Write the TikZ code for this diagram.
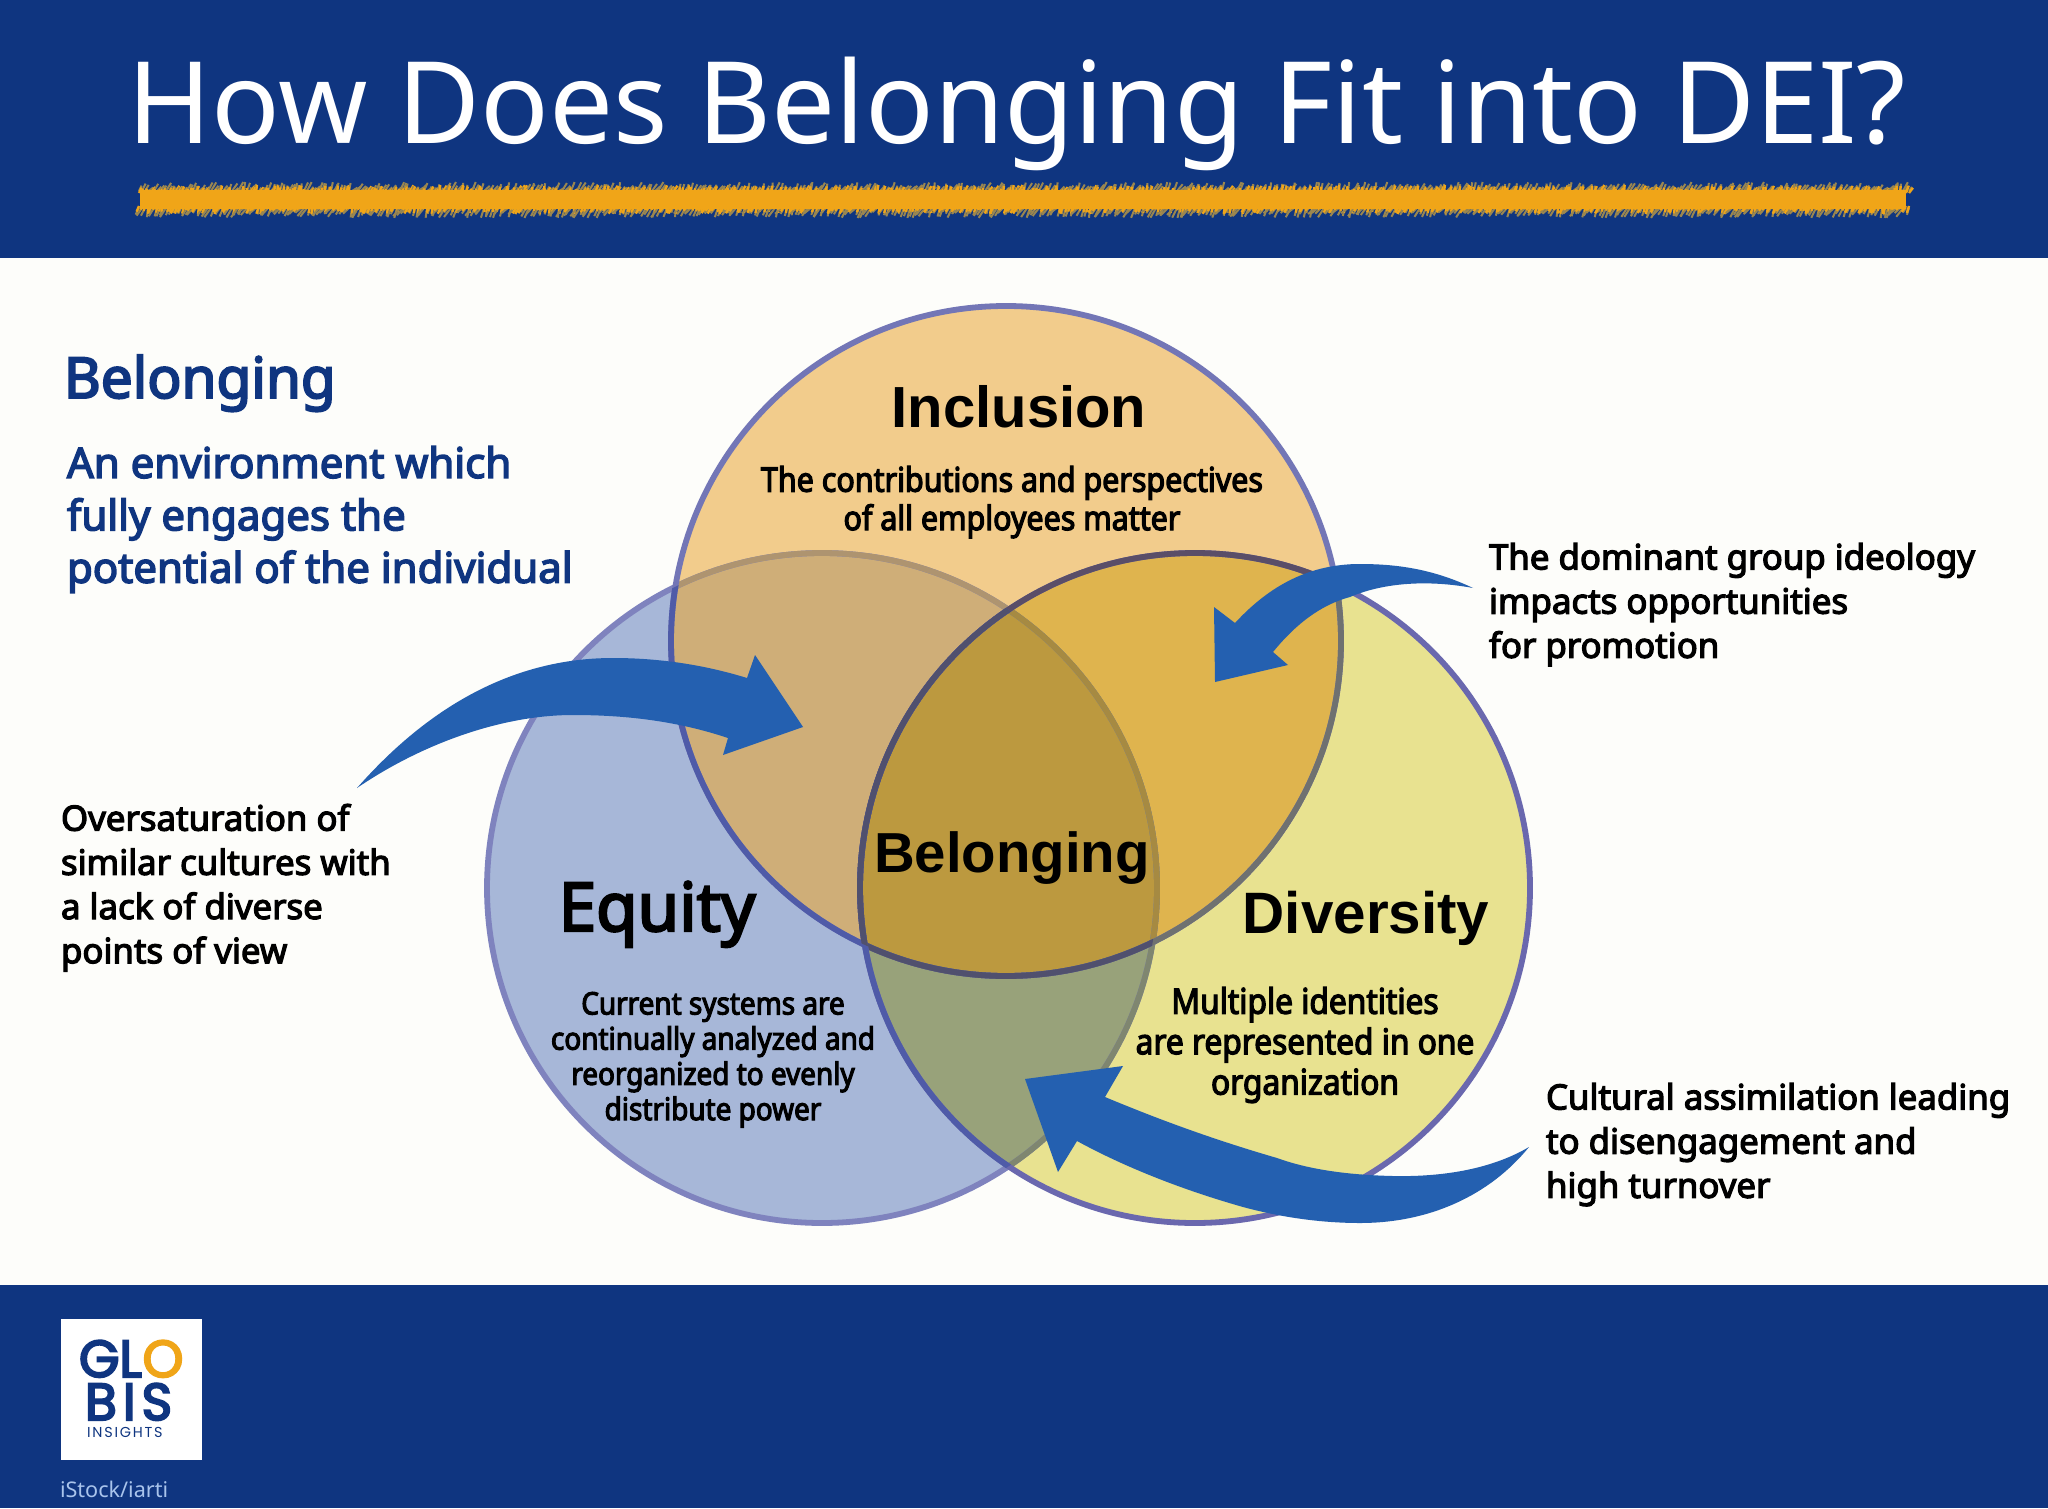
\documentclass[tikz,border=0pt]{standalone}
\usepackage{fontspec}
\setmainfont{Noto Sans}
\newfontfamily\nbc{Noto Sans}[FakeBold=3.5,FakeStretch=0.9]
\newfontfamily\nbw{Noto Sans}[FakeBold=3.5]
\newfontfamily\arl{Liberation Sans}
\newfontfamily\pop{Poppins}
\newfontfamily\popb{Poppins}[FakeBold=4]
\definecolor{navy}{HTML}{0F3580}
\definecolor{paper}{HTML}{FDFDFA}
\definecolor{arrowblue}{HTML}{2460B0}
\definecolor{incfill}{HTML}{F2CC8C}
\definecolor{eqfill}{HTML}{A7B7D8}
\definecolor{divfill}{HTML}{E8E290}
\definecolor{ovie}{HTML}{CFAE78}
\definecolor{ovid}{HTML}{DFB44E}
\definecolor{oved}{HTML}{98A27A}
\definecolor{ovctr}{HTML}{BC993F}
\definecolor{gold}{HTML}{F0A518}
\definecolor{fringe}{HTML}{9A8650}
\definecolor{credit}{HTML}{A9C4EC}
\definecolor{rimE}{HTML}{7F83BE}
\definecolor{rimEi}{HTML}{AE9470}
\definecolor{rimEd}{HTML}{7F8670}
\definecolor{rimEc}{HTML}{A68A42}
\definecolor{rimI}{HTML}{7376B6}
\definecolor{rimIe}{HTML}{4F5BA8}
\definecolor{rimId}{HTML}{6F7170}
\definecolor{rimIc}{HTML}{50506E}
\definecolor{rimD}{HTML}{6A68AE}
\definecolor{rimDi}{HTML}{5A4E68}
\definecolor{rimDe}{HTML}{4F5BA8}
\definecolor{rimDc}{HTML}{50506E}
\tikzset{
 bluearrow/.style={fill=arrowblue,draw=none},
 rim/.style={line width=2.9pt,draw=#1,fill=none},
 txt/.style={inner sep=0pt,outer sep=0pt,align=#1},
 note/.style={txt=left,anchor=north west,text=black,font=\nbw\fontsize{17.4}{22.1}\selectfont},
 subc/.style={txt=center,anchor=north,text=black},
 head/.style={txt=center,anchor=base,text=black,font=\arl\bfseries\fontsize{#1}{#1}\selectfont},
}
\newcommand{\Inc}{(1006,641) circle (335)}
\newcommand{\Equ}{(822,888) circle (335)}
\newcommand{\Dvs}{(1195,888) circle (335)}
\begin{document}
\begin{tikzpicture}[x=0.5pt,y=-0.5pt]
\useasboundingbox (0,0) rectangle (2048,1508);
\fill[paper] (0,0) rectangle (2048,1508);
\fill[navy] (0,0) rectangle (2048,258);
\fill[navy] (0,1285) rectangle (2048,1508);
% title
\node[txt=center,anchor=base,text=white,font=\fontsize{56.9}{57}\selectfont] (title) at (1017,144) {How Does Belonging Fit into DEI?};
% brush underline
\pgfmathsetseed{7}
\foreach \i in {0,...,590}{
 \pgfmathsetmacro{\xa}{139+\i*3}
 \pgfmathsetmacro{\da}{rand*3}
 \pgfmathsetmacro{\db}{rand*3}
 \draw[fringe,line width=1pt] (\xa,191) -- ++(3+\da,-6+\db);
 \draw[fringe,line width=1pt] (\xa,208) -- ++(-4+\db,7+\da);
 \draw[gold,line width=1.2pt] (\xa,193) -- ++(2+\db,-5+\da);
 \draw[gold,line width=1.2pt] (\xa,206) -- ++(-2+\da,5+\db);
}
\fill[gold] (140,190) rectangle (1906,209);
% circles: flat fills
\fill[eqfill] \Equ;
\fill[divfill] \Dvs;
\fill[incfill] \Inc;
\begin{scope}\clip \Inc; \fill[ovie] \Equ; \fill[ovid] \Dvs; \end{scope}
\begin{scope}\clip \Equ; \fill[oved] \Dvs; \end{scope}
\begin{scope}\clip \Inc; \clip \Equ; \fill[ovctr] \Dvs; \end{scope}
% rims
\draw[rim=rimE] \Equ;
\begin{scope}\clip \Inc; \draw[rim=rimEi] \Equ; \end{scope}
\begin{scope}\clip \Dvs; \draw[rim=rimEd] \Equ; \end{scope}
\begin{scope}\clip \Inc; \clip \Dvs; \draw[rim=rimEc] \Equ; \end{scope}
\draw[rim=rimI] \Inc;
\begin{scope}\clip \Equ; \draw[rim=rimIe] \Inc; \end{scope}
\begin{scope}\clip \Dvs; \draw[rim=rimId] \Inc; \end{scope}
\begin{scope}\clip \Equ; \clip \Dvs; \draw[rim=rimIc] \Inc; \end{scope}
\draw[rim=rimD] \Dvs;
\begin{scope}\clip \Inc; \draw[rim=rimDi] \Dvs; \end{scope}
\begin{scope}\clip \Equ; \draw[rim=rimDe] \Dvs; \end{scope}
\begin{scope}\clip \Equ; \clip \Inc; \draw[rim=rimDc] \Dvs; \end{scope}
% arrows
\fill[bluearrow] (357,788) .. controls (430,705) and (515,658) .. (613,658)
 .. controls (660,658) and (705,665) .. (747,678) -- (755,655) -- (803,727) -- (723,755) -- (728,738)
 .. controls (680,722) and (630,715) .. (573,715) .. controls (500,715) and (420,745) .. (357,788) -- cycle;
\fill[bluearrow] (1473,588) .. controls (1435,570) and (1400,564) .. (1360,564)
 .. controls (1310,564) and (1270,585) .. (1235,623) -- (1214,607) -- (1215,682) -- (1288,665) -- (1273,652)
 .. controls (1295,625) and (1320,605) .. (1350,597) .. controls (1385,582) and (1430,580) .. (1473,588) -- cycle;
\fill[bluearrow] (1529,1147) .. controls (1490,1170) and (1440,1177) .. (1393,1176)
 .. controls (1350,1175) and (1310,1170) .. (1277,1158) .. controls (1215,1140) and (1160,1120) .. (1105,1097)
 -- (1123,1066) -- (1025,1079) -- (1058,1172) -- (1077,1141)
 .. controls (1130,1170) and (1190,1192) .. (1243,1207) .. controls (1280,1217) and (1320,1223) .. (1360,1223)
 .. controls (1430,1223) and (1490,1195) .. (1529,1147) -- cycle;
% left text
\node[txt=left,anchor=base west,text=navy,font=\nbw\fontsize{28.3}{29}\selectfont] (bel) at (64,398) {Belonging};
\node[txt=left,anchor=north west,text=navy,font=\nbw\fontsize{21}{26.2}\selectfont] (def) at (67,446) {An environment which\\fully engages the\\potential of the individual};
\node[note] (n1) at (61,804) {Oversaturation of\\similar cultures with\\a lack of diverse\\points of view};
\node[note] (n2) at (1489,543) {The dominant group ideology\\impacts opportunities\\for promotion};
\node[note] (n3) at (1546,1083) {Cultural assimilation leading\\to disengagement and\\high turnover};
% circle titles
\node[head=29] (inc) at (1019,427) {Inclusion};
\node[subc,font=\nbc\fontsize{16.9}{19.2}\selectfont] (inct) at (1012,466) {The contributions and perspectives\\of all employees matter};
\node[head=28.2] (belc) at (1012,872) {Belonging};
\node[txt=center,anchor=base,text=black,font=\nbw\fontsize{33.7}{34}\selectfont] (eq) at (657,931) {Equity};
\node[subc,font=\nbc\fontsize{15.5}{17.6}\selectfont] (eqt) at (713,992) {Current systems are\\continually analyzed and\\reorganized to evenly\\distribute power};
\node[head=29.2] (dv) at (1366,933) {Diversity};
\node[subc,font=\nbc\fontsize{17.6}{20.2}\selectfont] (dvt) at (1305,987) {Multiple identities\\are represented in one\\organization};
% logo
\fill[white] (61,1319) rectangle (202,1460);
\node[txt=left,anchor=base west,text=navy,font=\popb\fontsize{26}{26}\selectfont] (lg) at (79,1377) {GL};
\node[txt=left,anchor=base,text=gold,font=\popb\fontsize{26}{26}\selectfont] (lo) at (163,1377) {O};
\node[txt=left,anchor=base west,text=navy,font=\popb\fontsize{26}{26}\selectfont] (lb) at (85,1420) {B\kern3pt I\kern3pt S};
\node[txt=left,anchor=base west,text=navy,font=\pop\fontsize{7.2}{7.2}\selectfont] (li) at (87,1437) {I\kern.9pt N\kern.9pt S\kern.9pt I\kern.9pt G\kern.9pt H\kern.9pt T\kern.9pt S};
\node[txt=left,anchor=base west,text=credit,font=\fontsize{10.8}{11}\selectfont] (cr) at (60,1497) {iStock/iarti};
\end{tikzpicture}
\end{document}
